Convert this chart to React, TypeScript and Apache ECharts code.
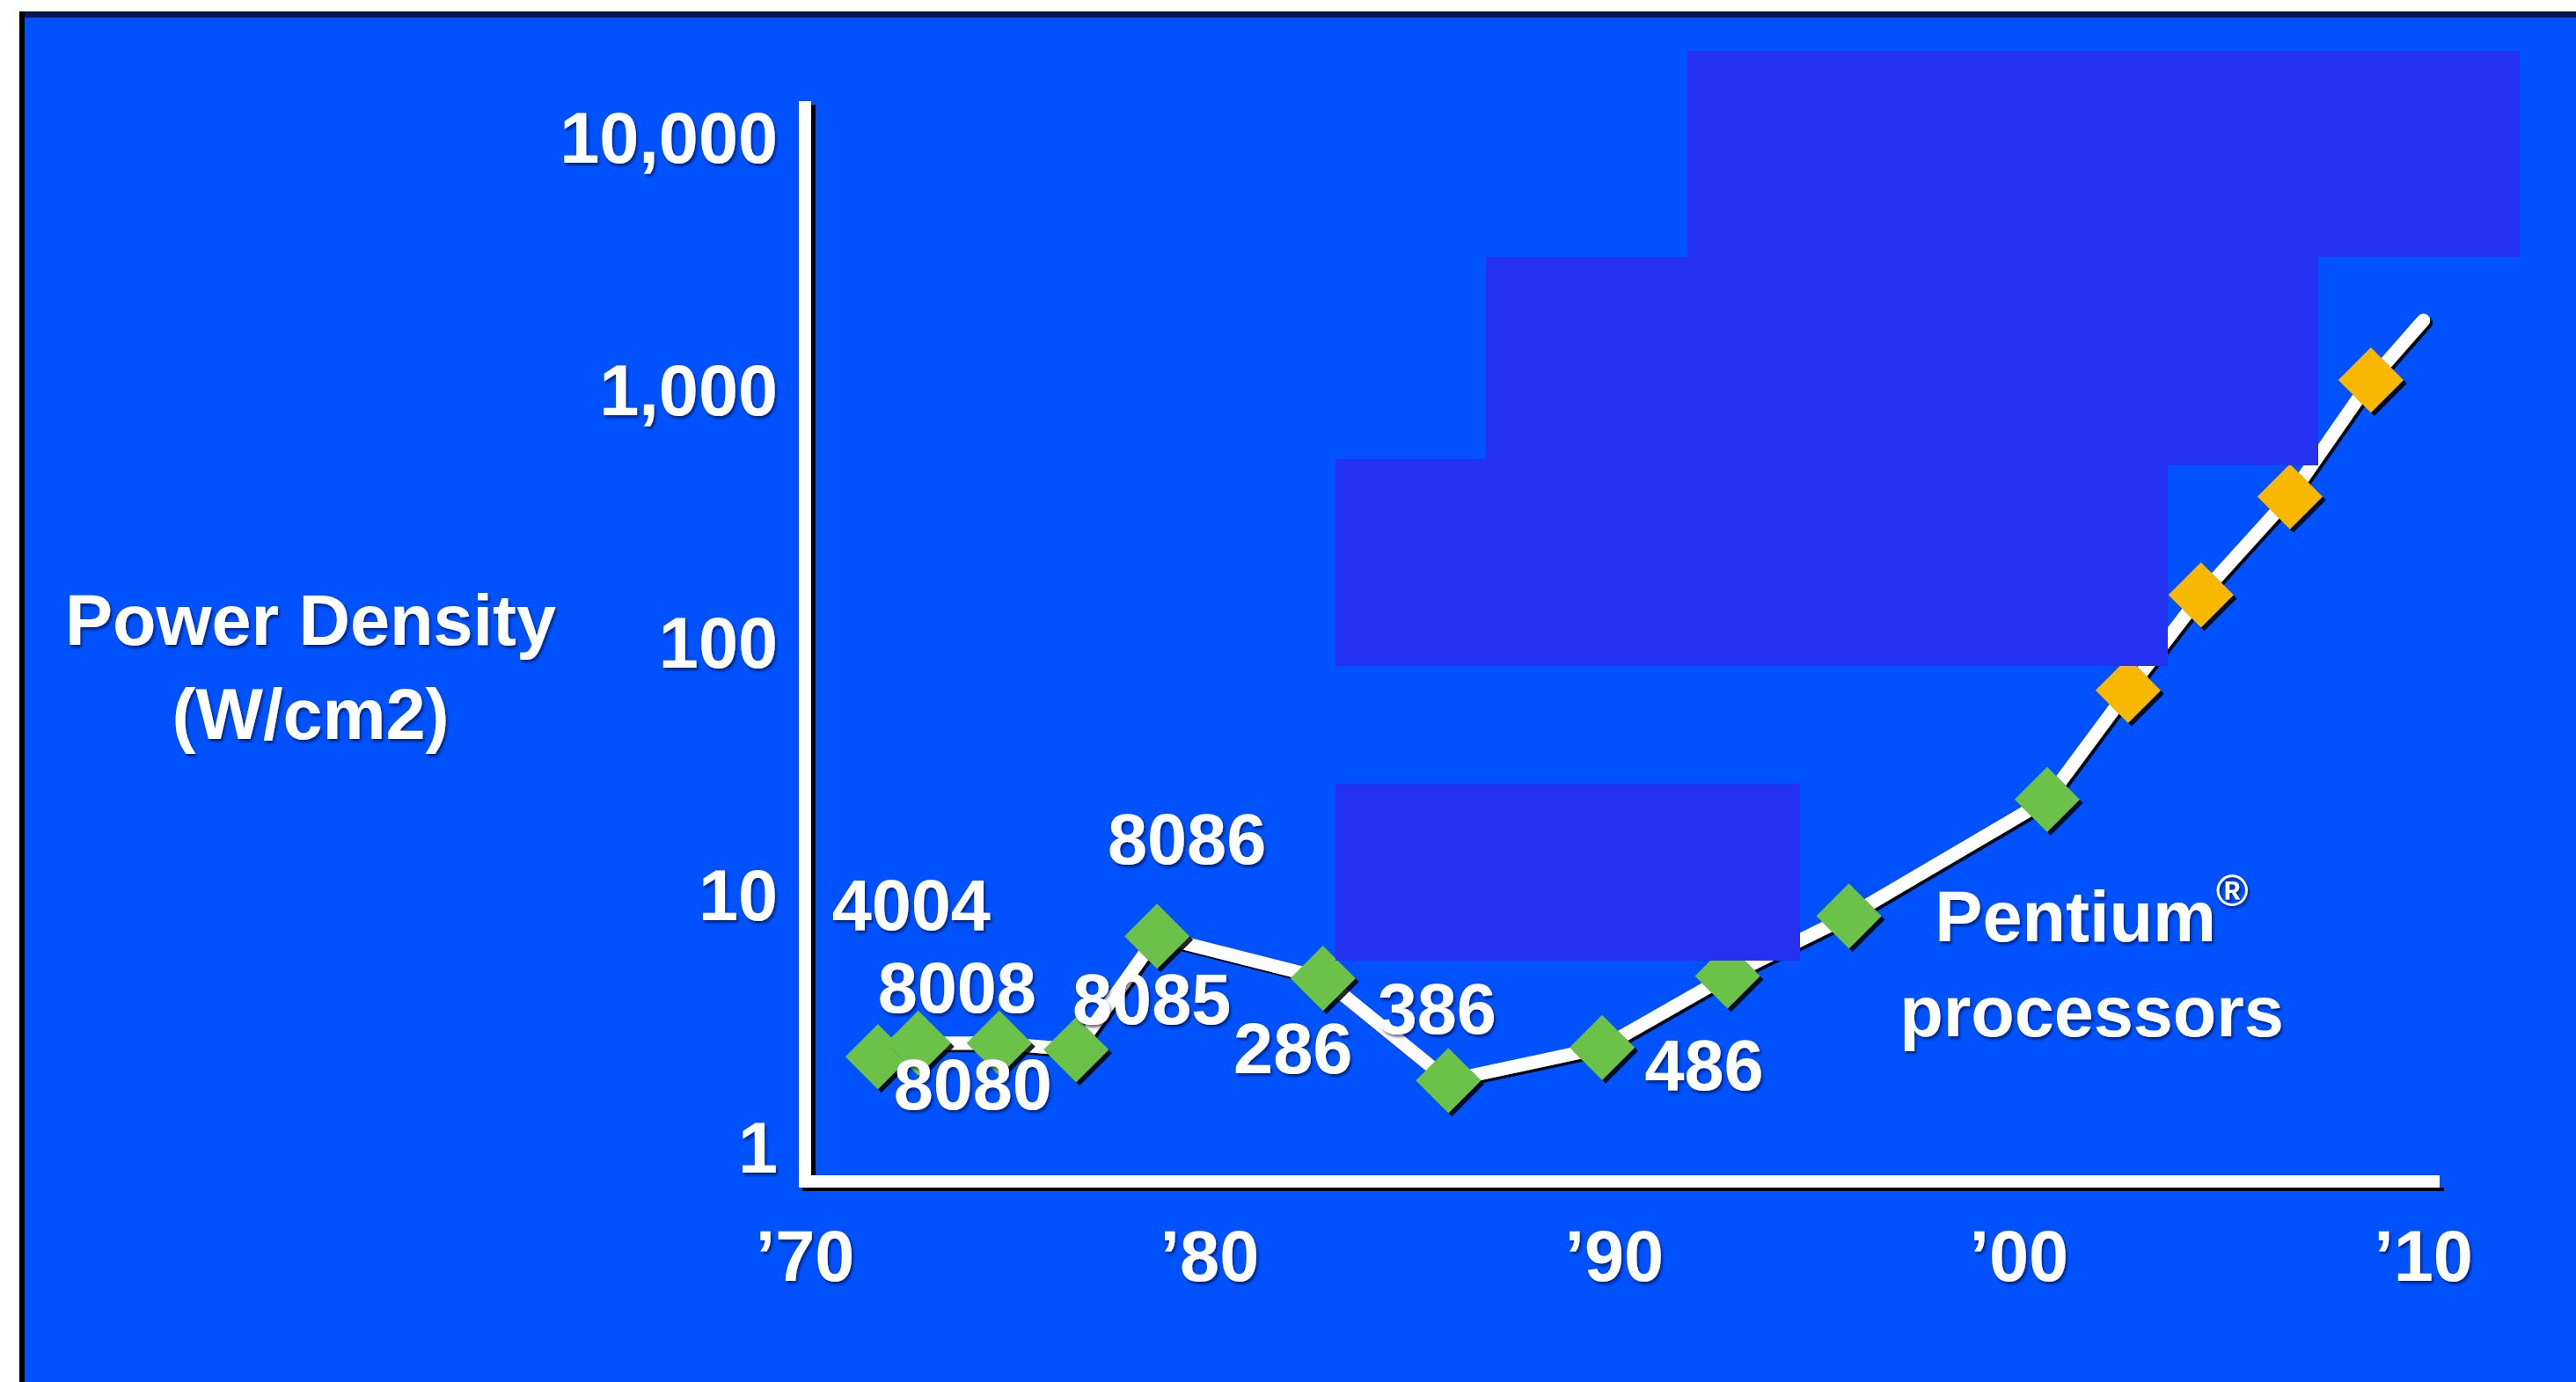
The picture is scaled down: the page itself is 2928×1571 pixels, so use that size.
import React, { useEffect, useRef } from "react";
import * as echarts from "echarts";

// ---- data ----
const years = [1971.8, 1972.8, 1974.8, 1976.7, 1978.7, 1982.8, 1985.9, 1989.7, 1992.8, 1995.8, 2000.7, 2002.7, 2004.5, 2006.7, 2008.7, 2010.0];
const density = [2.3, 2.6, 2.6, 2.45, 6.9, 4.7, 1.85, 2.5, 4.8, 8.3, 24, 65, 155, 380, 1100, 1900];
const chipNames = ["4004", "8008", "8080", "8085", "8086", "286", "386", "486", "", "Pentium", "", "", "", "", "", ""];
const family = ["x86", "x86", "x86", "x86", "x86", "x86", "x86", "x86", "x86", "x86", "x86", "projected", "projected", "projected", "projected", "trend"];
const xTickYears = [1970, 1980, 1990, 2000, 2010];
const yTickValues = [1, 10, 100, 1000, 10000];
const yAxisTitle = "Power Density\n(W/cm2)";

// ---- styles ----
const FONT = '"Liberation Sans", Arial, Helvetica, sans-serif';
const BLUE = "#0052FF";
const BOX = "#2632F1";
const familyColor: Record<string, string> = { x86: "#6CC24A", projected: "#F8B800" };
const labelOffset: Record<string, [number, number]> = {
  "4004": [38, -172],
  "8008": [44, -63],
  "8080": [-30, 47],
  "8085": [86, -57],
  "8086": [34, -110],
  "286": [-34, 80],
  "386": [-13, -81],
  "486": [116, 20],
  Pentium: [276, 55],
};
const textStyle = {
  color: "#ffffff",
  fontSize: 81,
  fontWeight: "bold" as const,
  fontFamily: FONT,
  textShadowColor: "rgba(0,0,40,0.55)",
  textShadowBlur: 3,
  textShadowOffsetX: 2,
  textShadowOffsetY: 3,
};

export default function App() {
  const ref = useRef<HTMLDivElement>(null);
  useEffect(() => {
    if (!ref.current) return;
    const chart = echarts.init(ref.current, undefined, { renderer: "svg" });

    const data = years.map((yr, i) => {
      const fam = family[i];
      const name = chipNames[i];
      const item: any = { value: [yr, density[i]] };
      if (fam === "trend") {
        item.symbol = "none";
      } else {
        item.itemStyle = { color: familyColor[fam] };
      }
      if (name) {
        const off = labelOffset[name] || [0, 0];
        if (name === "Pentium") {
          item.label = {
            show: true,
            position: "inside",
            offset: off,
            align: "center",
            verticalAlign: "middle",
            formatter: "{a|Pentium}{s|®}\n{a|processors}",
            rich: {
              a: { ...textStyle, lineHeight: 108 },
              s: { ...textStyle, fontSize: 50, lineHeight: 54, verticalAlign: "top" },
            },
          };
        } else {
          item.label = {
            show: true,
            position: "inside",
            offset: off,
            align: "center",
            verticalAlign: "middle",
            formatter: name,
            ...textStyle,
          };
        }
      }
      return item;
    });

    const axisLineStyle = { color: "#ffffff", width: 14, cap: "butt" };

    const option: any = {
      animation: false,
      backgroundColor: BLUE,
      grid: { left: 915, right: 155, top: 115, bottom: 228, outerBoundsMode: "none" },
      xAxis: {
        type: "value",
        min: 1970,
        max: 2010.4,
        interval: 10,
        axisLine: { show: true, onZero: false, lineStyle: axisLineStyle },
        axisTick: { show: false },
        splitLine: { show: false },
        axisLabel: {
          ...textStyle,
          margin: 85,
          verticalAlign: "middle",
          showMinLabel: true,
          showMaxLabel: false,
          formatter: (v: number) =>
            xTickYears.includes(Math.round(v * 10) / 10)
              ? "\u2019" + String(Math.round(v) % 100).padStart(2, "0")
              : "",
        },
      },
      yAxis: {
        type: "log",
        logBase: 10,
        min: 0.737,
        max: 14000,
        axisLine: { show: true, onZero: false, lineStyle: axisLineStyle },
        axisTick: { show: false },
        splitLine: { show: false },
        minorTick: { show: false },
        axisLabel: {
          ...textStyle,
          margin: 31,
          showMinLabel: false,
          showMaxLabel: false,
          formatter: (v: number) => {
            const r = Math.round(v);
            return yTickValues.includes(r) && Math.abs(v - r) < 1e-6 * Math.max(1, r)
              ? r.toLocaleString("en-US")
              : "";
          },
        },
      },
      series: [
        {
          type: "line",
          data,
          symbol: "diamond",
          symbolSize: 74,
          z: 3,
          lineStyle: {
            color: "#ffffff",
            width: 15,
            cap: "round",
            join: "round",
            shadowColor: "rgba(0,0,0,0.9)",
            shadowBlur: 0,
            shadowOffsetX: 3,
            shadowOffsetY: 3,
          },
          itemStyle: {
            borderWidth: 0,
            shadowColor: "rgba(0,0,0,0.85)",
            shadowBlur: 0,
            shadowOffsetX: 4,
            shadowOffsetY: 4,
          },
          label: { show: false },
          emphasis: { disabled: true },
        },
      ],
      graphic: [
        // dark drop shadows along the two axis lines, and the axis corner
        { type: "rect", z: 1, shape: { x: 922, y: 119, width: 5, height: 1217 }, style: { fill: "#000000" } },
        { type: "rect", z: 1, shape: { x: 912, y: 1350, width: 1866, height: 4 }, style: { fill: "#000000" } },
        { type: "rect", z: 1, shape: { x: 908, y: 1336, width: 14, height: 14 }, style: { fill: "#ffffff" } },
        // y-axis title
        {
          type: "text",
          z: 5,
          x: 353,
          y: 758,
          style: {
            text: yAxisTitle,
            ...textStyle,
            fill: "#ffffff",
            font: `bold 81px ${FONT}`,
            align: "center",
            verticalAlign: "middle",
            lineHeight: 107,
          },
        },
        // page frame (white margin + dark edges)
        { type: "rect", z: 200, shape: { x: 0, y: 0, width: 2928, height: 13 }, style: { fill: "#ffffff" } },
        { type: "rect", z: 200, shape: { x: 0, y: 0, width: 22, height: 1571 }, style: { fill: "#ffffff" } },
        { type: "rect", z: 199, shape: { x: 22, y: 13, width: 2906, height: 7 }, style: { fill: "#0a1450" } },
        { type: "rect", z: 199, shape: { x: 22, y: 13, width: 6, height: 1558 }, style: { fill: "#000000" } },
        // cover boxes over the upper-right annotations
        { type: "rect", z: 150, shape: { x: 1918, y: 58, width: 946, height: 234 }, style: { fill: BOX } },
        { type: "rect", z: 150, shape: { x: 1689, y: 292, width: 946, height: 237 }, style: { fill: BOX } },
        { type: "rect", z: 150, shape: { x: 1518, y: 522, width: 946, height: 235 }, style: { fill: BOX } },
        { type: "rect", z: 150, shape: { x: 1518, y: 891, width: 528, height: 201 }, style: { fill: BOX } },
      ],
    };

    chart.setOption(option);
    return () => chart.dispose();
  }, []);

  return (
    <div
      ref={ref}
      style={{ position: "fixed", left: 0, top: 0, width: 2928, height: 1571 }}
    />
  );
}
